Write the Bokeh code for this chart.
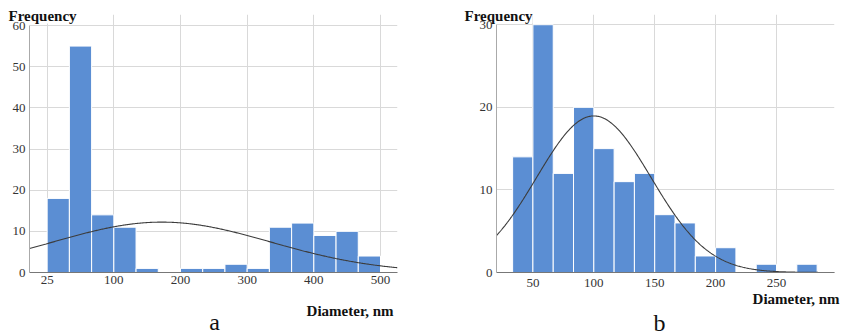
import numpy as np
from bokeh.plotting import figure
from bokeh.layouts import row
from bokeh.models import Range1d, FixedTicker, Title
from bokeh.embed import file_html
from bokeh.resources import INLINE

# ---------------- data ----------------
# Chart a: bins of width 500/15 starting at 0
a_bin_start = 0.0
a_bin_width = 500.0 / 15
a_counts = [18, 55, 14, 11, 1, 0, 1, 1, 2, 1, 11, 12, 9, 10, 4]
a_xticks = [0, 100, 200, 300, 400, 500]
a_xtick_labels = ["25", "100", "200", "300", "400", "500"]
a_yticks = [0, 10, 20, 30, 40, 50, 60]
a_fit_mean = 172.0
a_fit_sd = 163.0

# Chart b: bins of width 50/3 starting at 100/3
b_bin_start = 100.0 / 3
b_bin_width = 50.0 / 3
b_counts = [14, 30, 12, 20, 15, 11, 12, 7, 6, 2, 3, 0, 1, 0, 1]
b_xticks = [50, 100, 150, 200, 250]
b_xtick_labels = ["50", "100", "150", "200", "250"]
b_yticks = [0, 10, 20, 30]
b_fit_mean = 100.0
b_fit_sd = 47.0

y_title = "Frequency"
x_title = "Diameter, nm"
panel_names = ["a", "b"]

SERIF = "Liberation Serif"
BAR = "#5b8ed3"
TXT = "#111111"


def title(text, size, bold, align, offset, standoff, valign="bottom", bg=None):
    return Title(text=text, align=align, offset=offset, standoff=standoff,
                 vertical_align=valign, text_font=SERIF, text_font_size=size,
                 text_font_style="bold" if bold else "normal", text_color=TXT,
                 background_fill_color=bg)


def spacer(standoff, size="1px"):
    return Title(text=" ", text_font_size=size, standoff=standoff)


def make_chart(width, height, left, right, top, bottom, xr, yr, ybound,
               bin_start, bin_w, counts, mean, sd, xticks, xlabels, yticks,
               xstandoff):
    p = figure(width=width, height=height, output_backend="svg",
               toolbar_location=None, x_range=Range1d(*xr), y_range=Range1d(*yr),
               min_border_left=left, min_border_right=right,
               min_border_top=top, min_border_bottom=bottom)
    p.outline_line_color = None
    p.background_fill_color = "white"
    p.border_fill_color = "white"
    n = len(counts)
    lefts = [bin_start + i * bin_w for i in range(n)]
    rights = [bin_start + (i + 1) * bin_w for i in range(n)]
    p.quad(left=lefts, right=rights, bottom=[0] * n, top=counts,
           fill_color=BAR, line_color="white", line_width=1)
    total = sum(counts)
    xs = np.linspace(xr[0], xr[1], 400)
    ys = total * bin_w / (sd * np.sqrt(2 * np.pi)) * np.exp(-0.5 * ((xs - mean) / sd) ** 2)
    p.line(xs, ys, line_color="#3c3c3c", line_width=1.1)

    p.xaxis.ticker = FixedTicker(ticks=xticks)
    p.xaxis.major_label_overrides = {t: l for t, l in zip(xticks, xlabels)}
    p.yaxis.ticker = FixedTicker(ticks=yticks)
    p.yaxis.bounds = ybound
    for ax in (p.xaxis, p.yaxis):
        ax.major_tick_line_color = None
        ax.minor_tick_line_color = None
        ax.major_tick_out = 0
        ax.major_tick_in = 0
        ax.major_label_text_font = SERIF
        ax.major_label_text_font_size = "13px"
        ax.major_label_text_color = "#333333"
        ax.level = "overlay"
    p.xaxis.axis_line_color = "#777777"
    p.yaxis.axis_line_color = "#aaaaaa"
    p.xaxis.major_label_standoff = xstandoff
    p.yaxis.major_label_standoff = 4
    p.xgrid.ticker = FixedTicker(ticks=xticks)
    p.ygrid.ticker = FixedTicker(ticks=yticks)
    p.xgrid.grid_line_color = "#d9d9d9"
    p.ygrid.grid_line_color = "#d9d9d9"
    return p


# ---- chart a: frame x 29..397, y 14..272 ----
WA, HA = 420, 335
LA, RA, TA, BA = 29, 23, 14, 63
xra = (-26.5, 525.5)
ka = (272 - 25) / 60.0
yra = (0, (HA - TA - BA) / ka)
pa = make_chart(WA, HA, LA, RA, TA, BA, xra, yra, (0, 60),
                a_bin_start, a_bin_width, a_counts, a_fit_mean, a_fit_sd,
                a_xticks, a_xtick_labels, a_yticks, 3)
pa.add_layout(title(y_title, "15px", True, "left", 8 - LA, -18, bg="white"), "above")
pa.add_layout(spacer(8.9), "below")
pa.add_layout(title(x_title, "15px", True, "right", 4, 6.4), "below")
pa.add_layout(title(panel_names[0], "24px", False, "left", 179.7, -27.6, "top"), "below")

# ---- chart b: frame x 496..834, y 14..274 ----
WB, HB = 421, 335
LB, RB, TB, BB = 76, 7, 14, 61
xrb = (20.1, 297.6)
kb = (274 - 24.3) / 30.0
yrb = (0, (HB - TB - BB) / kb)
pb = make_chart(WB, HB, LB, RB, TB, BB, xrb, yrb, (0, 30),
                b_bin_start, b_bin_width, b_counts, b_fit_mean, b_fit_sd,
                b_xticks, b_xtick_labels, b_yticks, 6)
pb.add_layout(title(y_title, "15px", True, "left", 464 - 420 - LB, -18, bg="white"), "above")
pb.add_layout(spacer(1.9), "below")
pb.add_layout(title(x_title, "15px", True, "right", -5, -9.6), "below")
pb.add_layout(spacer(3.1, "10px"), "below")
pb.add_layout(title(panel_names[1], "24px", False, "left", 157, -22), "below")

layout = row(pa, pb)
open("out.html", "w").write(file_html(layout, INLINE))
